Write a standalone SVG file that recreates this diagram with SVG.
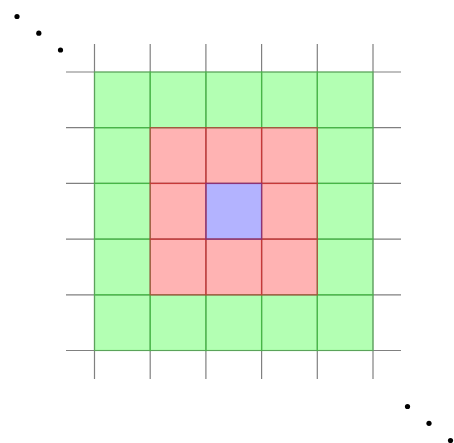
<svg xmlns="http://www.w3.org/2000/svg" width="454" height="443" viewBox="0 0 454 443">
<style>
.gf{fill:#b3ffb3}
.rf{fill:#ffb3b3}
.bf{fill:#b3b3ff}
.g,.r,.b{fill:none;stroke-width:1.3}
.g{stroke:#2fcf2f;stroke-opacity:0.45}
.r{stroke:#d03030;stroke-opacity:0.65}
.b{stroke:#7a2a8a;stroke-opacity:0.7}
.grid line{stroke:#808080;stroke-width:1.2}
.dot{fill:#000}
</style>
<defs>
<rect id="c" width="55.7" height="55.7"/>
</defs>
<g id="cell-fills">
<rect class="gf" x="94.5" y="72" width="278.5" height="278.5"/>
<rect class="rf" x="150.2" y="127.7" width="167.1" height="167.1"/>
<rect class="bf" x="205.9" y="183.4" width="55.7" height="55.7"/>
</g>
<g id="grid" class="grid">
<line x1="94.5" y1="44" x2="94.5" y2="379"/>
<line x1="150.2" y1="44" x2="150.2" y2="379"/>
<line x1="205.9" y1="44" x2="205.9" y2="379"/>
<line x1="261.6" y1="44" x2="261.6" y2="379"/>
<line x1="317.3" y1="44" x2="317.3" y2="379"/>
<line x1="373" y1="44" x2="373" y2="379"/>
<line x1="66" y1="72" x2="401" y2="72"/>
<line x1="66" y1="127.7" x2="401" y2="127.7"/>
<line x1="66" y1="183.4" x2="401" y2="183.4"/>
<line x1="66" y1="239.1" x2="401" y2="239.1"/>
<line x1="66" y1="294.8" x2="401" y2="294.8"/>
<line x1="66" y1="350.5" x2="401" y2="350.5"/>
</g>
<g id="cell-edges">
<use href="#c" class="g" x="94.5" y="72"/>
<use href="#c" class="g" x="150.2" y="72"/>
<use href="#c" class="g" x="205.9" y="72"/>
<use href="#c" class="g" x="261.6" y="72"/>
<use href="#c" class="g" x="317.3" y="72"/>
<use href="#c" class="g" x="94.5" y="127.7"/>
<use href="#c" class="g" x="317.3" y="127.7"/>
<use href="#c" class="g" x="94.5" y="183.4"/>
<use href="#c" class="g" x="317.3" y="183.4"/>
<use href="#c" class="g" x="94.5" y="239.1"/>
<use href="#c" class="g" x="317.3" y="239.1"/>
<use href="#c" class="g" x="94.5" y="294.8"/>
<use href="#c" class="g" x="150.2" y="294.8"/>
<use href="#c" class="g" x="205.9" y="294.8"/>
<use href="#c" class="g" x="261.6" y="294.8"/>
<use href="#c" class="g" x="317.3" y="294.8"/>
<use href="#c" class="r" x="150.2" y="127.7"/>
<use href="#c" class="r" x="205.9" y="127.7"/>
<use href="#c" class="r" x="261.6" y="127.7"/>
<use href="#c" class="r" x="150.2" y="183.4"/>
<use href="#c" class="r" x="261.6" y="183.4"/>
<use href="#c" class="r" x="150.2" y="239.1"/>
<use href="#c" class="r" x="205.9" y="239.1"/>
<use href="#c" class="r" x="261.6" y="239.1"/>
<use href="#c" class="b" x="205.9" y="183.4"/>
</g>
<g id="dots-top-left">
<circle class="dot" cx="17" cy="16.5" r="2.6"/>
<circle class="dot" cx="38.8" cy="33.2" r="2.6"/>
<circle class="dot" cx="60.5" cy="50" r="2.6"/>
</g>
<g id="dots-bottom-right">
<circle class="dot" cx="407.5" cy="406.5" r="2.6"/>
<circle class="dot" cx="429" cy="423.3" r="2.6"/>
<circle class="dot" cx="450.5" cy="440.5" r="2.6"/>
</g>
</svg>
